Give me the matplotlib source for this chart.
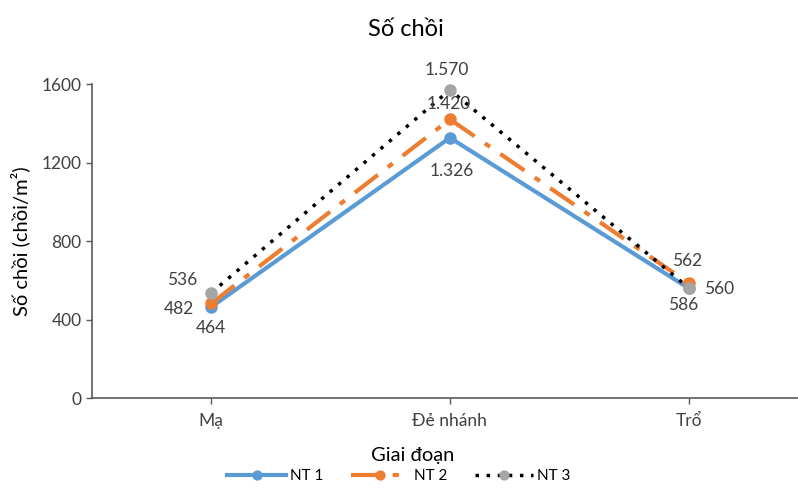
import matplotlib
matplotlib.use('Agg')
import matplotlib.pyplot as plt

plt.rcParams['font.family'] = ['Lato', 'Noto Sans', 'DejaVu Sans']

# data
stages = ['Mạ', 'Đẻ nhánh', 'Trổ']
nt1 = [464, 1326, 560]
nt2 = [482, 1420, 586]
nt3 = [536, 1570, 562]
yticks = [0, 400, 800, 1200, 1600]

def fmt(v):
    return f"{v:,}".replace(',', '.')

fig = plt.figure(figsize=(7.98, 4.91), dpi=100)
ax = fig.add_axes([0.1153, 0.1894, 0.897, 0.6395])

x = list(range(len(stages)))
ax.plot(x, nt1, color='#5B9BD5', lw=3, marker='o', ms=8, label='NT 1', zorder=3)
ax.plot(x, nt2, color='#ED7D31', lw=3, dashes=(7, 3, 1.5, 3), marker='o', ms=8,
        label='NT 2', zorder=4)
ax.plot(x, nt3, color='black', lw=2.5, ls=(0, (1, 2.2)), marker='o', ms=8,
        mfc='#A5A5A5', mec='#A5A5A5', label='NT 3', zorder=5)

# label offsets (points) per series and stage
off1 = [(0, -15), (1, -24), (22, -1)]
off2 = [(-23, -4), (-1, 11), (-4, -16)]
off3 = [(-21, 9), (-2, 14), (-1, 19)]
for vals, offs in [(nt1, off1), (nt2, off2), (nt3, off3)]:
    for xi, v, o in zip(x, vals, offs):
        ax.annotate(fmt(v), (xi, v), xytext=o, textcoords='offset points',
                    ha='center', va='center', fontsize=12.5, color='#404040', zorder=6)

ax.set_xlim(-0.5, 2.5)
ax.set_ylim(0, 1600)
ax.set_xticks(x)
ax.set_xticklabels(stages, fontsize=12.5, color='#404040')
ax.set_yticks(yticks)
ax.set_yticklabels([str(t) for t in yticks], fontsize=12.5, color='#404040')
ax.tick_params(axis='both', color='#595959', length=4, width=1)
ax.tick_params(axis='x', pad=7)
for s in ['top', 'right']:
    ax.spines[s].set_visible(False)
for s in ['left', 'bottom']:
    ax.spines[s].set_color('#595959')
    ax.spines[s].set_linewidth(1.2)

ax.set_xlabel('Giai đoạn', fontsize=14.5)
ax.xaxis.set_label_coords(0.448, -0.155)
ax.set_ylabel('Số chồi (chồi/m²)', fontsize=14.5, labelpad=8)
fig.text(0.508, 0.939, 'Số chồi', ha='center', va='center', fontsize=17)

fig.legend(loc='center', bbox_to_anchor=(0.5, 0.03), ncol=3, frameon=False,
           fontsize=11, handlelength=3.8, columnspacing=1.8, handletextpad=0.3,
           markerscale=0.8)

fig.savefig('out.png', dpi=100)
